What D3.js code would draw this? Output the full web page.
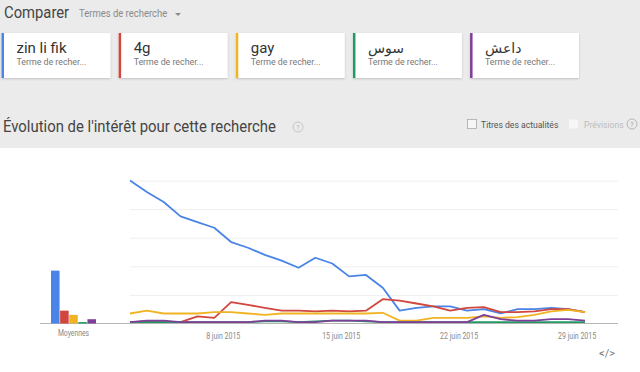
<!DOCTYPE html>
<html><head><meta charset="utf-8">
<script src="https://cdn.jsdelivr.net/npm/d3@7"></script>
<style>
html,body{margin:0;padding:0;background:#ebebeb;}
svg{display:block;font-family:Roboto,"Noto Sans",sans-serif;}
</style></head>
<body><svg id="c" width="640" height="372"></svg>
<script>
// ---- data ----
const terms = ["zin li fik", "4g", "gay", "سوس", "داعش"];
const colors = ["#4a84e6", "#d2473d", "#f0b323", "#1f9a64", "#7f3f98"];
const averages = [37, 9, 6, 1, 3];
const startDate = "2015-06-02";
const zinLiFik = [100,92,85,75,71,67,57,53,48,44,39,46,42,33,34,25,9,11,12,12,9,10,7,10,10,11,10,8];
const g4 =       [1,1.5,1,1,5,4,15,13,11,9,9,8.5,9,8.5,9,17,16,14,12,9,11,11.5,8,8,8.5,10,10,8];
const gay =      [7,9,7,7,7,8,8,7,6,7,7,7,7,7,7,7.5,2,2,4,4,4,5,4,4.5,6,8.5,9.5,8];
const sous =     [1,1,1,1,1,1,1,1,1.5,1.5,1,1.5,2,2,1.5,1,1,1,1,1,1,1,1,1,1,1,1,1];
const daech =    [1,2,2,1,1,1,1,1,2,2,1,1,2,2,2,1,1,1,1,1,1,6,3,2,2,3,3,2];
const tickDates = ["2015-06-08", "2015-06-15", "2015-06-22", "2015-06-29"];
const tickLabels = ["8 juin 2015", "15 juin 2015", "22 juin 2015", "29 juin 2015"];
const yTicks = [20, 40, 60, 80, 100];

const series = [zinLiFik, g4, gay, sous, daech];
const svg = d3.select("#c");

function condense(sel, factor) {
  sel.each(function () {
    const L = this.getComputedTextLength();
    d3.select(this).attr("textLength", L * factor).attr("lengthAdjust", "spacingAndGlyphs");
  });
  return sel;
}

// ---- header ----
condense(svg.append("text").attr("x", 4).attr("y", 18).attr("font-size", 17).attr("fill", "#454545").text("Comparer"), 0.87);
condense(svg.append("text").attr("x", 79).attr("y", 17).attr("font-size", 10.5).attr("fill", "#8a8a8a").text("Termes de recherche"), 0.9);
svg.append("path").attr("d", "M175,13 l6,0 l-3,3 z").attr("fill", "#8a8a8a");

// cards
const defs = svg.append("defs");
const f = defs.append("filter").attr("id", "sh").attr("x", "-10%").attr("y", "-10%").attr("width", "120%").attr("height", "130%");
f.append("feDropShadow").attr("dx", 0).attr("dy", 1).attr("stdDeviation", 0.8).attr("flood-color", "#000").attr("flood-opacity", 0.18);

const cardX = d3.scaleBand().domain(terms).range([1.5, 579]).paddingInner(0.07).paddingOuter(0);
terms.forEach((t, i) => {
  const x = cardX(t), w = cardX.bandwidth();
  svg.append("rect").attr("x", x).attr("y", 33).attr("width", w).attr("height", 45).attr("fill", "#fff").attr("filter", "url(#sh)");
  svg.append("rect").attr("x", x).attr("y", 33).attr("width", 2.5).attr("height", 45).attr("fill", colors[i]);
  svg.append("text").attr("x", x + 15).attr("y", 53).attr("font-size", i >= 3 ? 14 : 15).attr("fill", "#333")
     .attr("font-family", i >= 3 ? "'DejaVu Sans',sans-serif" : null).text(t);
  svg.append("text").attr("x", x + 15).attr("y", 65).attr("font-size", 8.8).attr("fill", "#777").text("Terme de recher...");
});

// title row
condense(svg.append("text").attr("x", 3).attr("y", 132).attr("font-size", 16).attr("fill", "#444").text("Évolution de l'intérêt pour cette recherche"), 0.93);
function help(cx, cy, col) {
  svg.append("circle").attr("cx", cx).attr("cy", cy).attr("r", 5).attr("fill", "none").attr("stroke", col).attr("stroke-width", 0.8);
  svg.append("text").attr("x", cx).attr("y", cy + 2.5).attr("text-anchor", "middle").attr("font-size", 7).attr("fill", col).text("?");
}
help(298, 127, "#bbb");
svg.append("rect").attr("x", 467.5).attr("y", 119.5).attr("width", 9).attr("height", 9).attr("fill", "#f5f5f5").attr("stroke", "#aaa").attr("stroke-width", 0.8);
svg.append("text").attr("x", 481).attr("y", 127.5).attr("font-size", 8.6).attr("fill", "#555").text("Titres des actualités");
svg.append("rect").attr("x", 569).attr("y", 119.5).attr("width", 9).attr("height", 9).attr("fill", "#f7f7f7");
svg.append("text").attr("x", 584).attr("y", 127.5).attr("font-size", 8.6).attr("fill", "#bdbdbd").text("Prévisions");
help(632, 124, "#aaa");

// ---- chart panel ----
svg.append("rect").attr("x", 0).attr("y", 148).attr("width", 640).attr("height", 224).attr("fill", "#fff");

const parse = d3.utcParse("%Y-%m-%d");
const t0 = d3.utcHour.offset(parse(startDate), 12);
const dates = zinLiFik.map((_, i) => d3.utcDay.offset(t0, i));
const x = d3.scaleUtc().domain([dates[0], dates[dates.length - 1]]).range([130, 585]);
const y = d3.scaleLinear().domain([0, 100]).range([323.5, 180.6]);

// grid
const grid = d3.axisLeft(y).tickValues(yTicks).tickSize(-(618 - 130)).tickFormat("");
const gg = svg.append("g").attr("transform", "translate(130,0)").call(grid);
gg.select(".domain").remove();
gg.selectAll(".tick line").attr("stroke", "#efefef").attr("stroke-width", 1);

// baseline
svg.append("line").attr("x1", 40).attr("x2", 618).attr("y1", y(0)).attr("y2", y(0)).attr("stroke", "#b5b5b5").attr("stroke-width", 1);

// x axis labels
const xa = d3.axisBottom(x).tickValues(tickDates.map(parse)).tickSize(0).tickFormat((d, i) => tickLabels[i]);
const xg = svg.append("g").attr("transform", `translate(0,${y(0) + 6})`).call(xa);
xg.select(".domain").remove();
condense(xg.selectAll("text").attr("font-size", 8.5).attr("fill", "#888").attr("font-family", "Roboto,sans-serif"), 0.82);

// averages bars
const bx = d3.scaleBand().domain(terms).range([51, 96]).paddingInner(0.06);
svg.append("g").selectAll("rect").data(averages).join("rect")
  .attr("x", (d, i) => bx(terms[i])).attr("width", bx.bandwidth())
  .attr("y", d => y(d)).attr("height", d => y(0) - y(d))
  .attr("fill", (d, i) => colors[i]);
condense(svg.append("text").attr("x", 73.5).attr("y", y(0) + 12.5).attr("text-anchor", "middle").attr("font-size", 8.5).attr("fill", "#888").text("Moyennes"), 0.8);

// lines
const line = d3.line().x((d, i) => x(dates[i])).y(d => y(d));
series.forEach((s, i) => {
  svg.append("path").datum(s).attr("d", line).attr("fill", "none")
    .attr("stroke", colors[i]).attr("stroke-width", 1.8).attr("stroke-linejoin", "round");
});

// embed icon
svg.append("text").attr("x", 607).attr("y", 357).attr("text-anchor", "middle").attr("font-size", 11).attr("fill", "#777").text("</>");
</script>
</body></html>
